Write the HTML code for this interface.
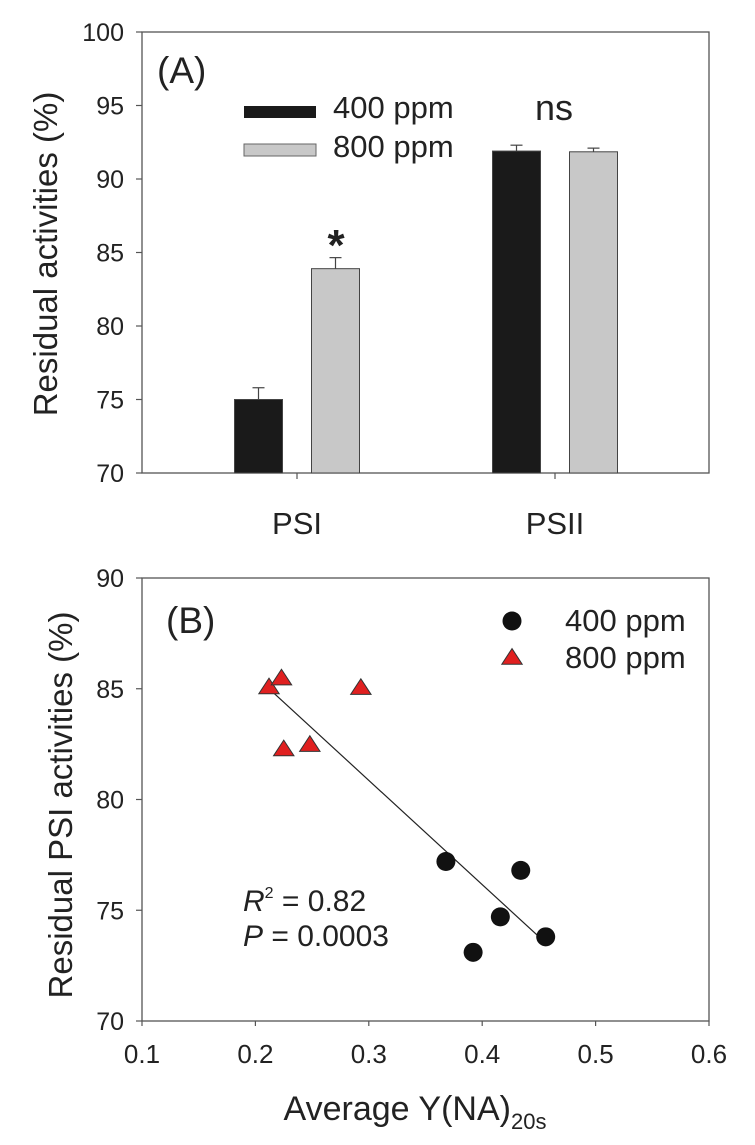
<!DOCTYPE html>
<html><head><meta charset="utf-8"><style>
html,body{margin:0;padding:0;background:#fff}
svg{display:block;font-family:"Liberation Sans",Arial,sans-serif}
</style></head><body>
<svg id="chart" width="755" height="1145" viewBox="0 0 755 1145" xmlns="http://www.w3.org/2000/svg">
<g id="panelA"></g>
<g id="panelB"></g>
</svg>
<script>
// Panel A data
const groups = ["PSI", "PSII"];
const series400 = [75.0, 91.9];
const err400 = [0.8, 0.4];
const series800 = [83.9, 91.85];
const err800 = [0.75, 0.25];
const yTicksA = [70, 75, 80, 85, 90, 95, 100];
// Panel B data
const x400 = [0.368, 0.434, 0.416, 0.392, 0.456];
const y400 = [77.2, 76.8, 74.7, 73.1, 73.8];
const x800 = [0.212, 0.223, 0.293, 0.225, 0.248];
const y800 = [85.1, 85.5, 85.07, 82.3, 82.5];
const xTicksB = [0.1, 0.2, 0.3, 0.4, 0.5, 0.6];
const yTicksB = [70, 75, 80, 85, 90];

const NS = "http://www.w3.org/2000/svg";
function mk(parent, tag, attrs, text) {
  const e = document.createElementNS(NS, tag);
  for (const k in attrs) e.setAttribute(k, attrs[k]);
  if (text !== undefined) e.textContent = text;
  parent.appendChild(e);
  return e;
}
const A = document.getElementById("panelA");
const B = document.getElementById("panelB");

// ---- Panel A ----
const aL = 142, aR = 709, aT = 32, aB = 473;
const yA = v => aB - (v - 70) / 30 * (aB - aT);
const groupCenters = [297, 555];
const barW = 48, barOff = 38.5;
let f = mk(A, "rect", {x: aL, y: aT, width: aR - aL, height: aB - aT, fill: "none", stroke: "#555", "stroke-width": 1.3});


yTicksA.forEach(t => {
  const y = yA(t);
  let l = mk(A, "line", {x1: aL - 6, x2: aL, y1: y, y2: y, stroke: "#555", "stroke-width": 1.2});
  
  
  let tx = mk(A, "text", {x: 124, y: y + 9, "font-size": 25, "text-anchor": "end", fill: "#222"}, t);
  
  
});
groups.forEach((g, i) => {
  const c = groupCenters[i];
  let l = mk(A, "line", {x1: c, x2: c, y1: aB, y2: aB + 6, stroke: "#555", "stroke-width": 1.2});
  
  
  let tx = mk(A, "text", {x: c, y: 534, "font-size": 31, "text-anchor": "middle", fill: "#222"}, g);
  
  
  [[series400, err400, "#1a1a1a", -1, "bar-400ppm"], [series800, err800, "#c8c8c8", 1, "bar-800ppm"]].forEach(([s, e, col, side, nm]) => {
    const cx = c + side * barOff;
    const top = yA(s[i]), et = yA(s[i] + e[i]);
    let el = mk(A, "line", {x1: cx, x2: cx, y1: et, y2: top, stroke: "#444", "stroke-width": 1.2});
    
    
    let ec = mk(A, "line", {x1: cx - 6, x2: cx + 6, y1: et, y2: et, stroke: "#444", "stroke-width": 1.2});
    
    
    let r = mk(A, "rect", {x: cx - barW / 2, y: top, width: barW, height: aB - top, fill: col, stroke: "#444", "stroke-width": 1});
    
    
  });
});
let t1 = mk(A, "text", {x: 157, y: 83, "font-size": 37, fill: "#222"}, "(A)");


let lg1 = mk(A, "rect", {x: 244, y: 106, width: 72, height: 12, fill: "#1a1a1a"});


let lt1 = mk(A, "text", {x: 333, y: 118, "font-size": 31, fill: "#222"}, "400 ppm");


let lg2 = mk(A, "rect", {x: 244, y: 144, width: 72, height: 12, fill: "#c8c8c8", stroke: "#666", "stroke-width": 1});


let lt2 = mk(A, "text", {x: 333, y: 157, "font-size": 31, fill: "#222"}, "800 ppm");


let ns = mk(A, "text", {x: 554, y: 120, "font-size": 36, "text-anchor": "middle", fill: "#222"}, "ns");


let st = mk(A, "text", {x: 336, y: 260, "font-size": 44, "font-weight": "bold", "text-anchor": "middle", fill: "#222"}, "*");


let yt = mk(A, "text", {x: 0, y: 0, "font-size": 33, "text-anchor": "middle", fill: "#222", transform: "translate(57,254) rotate(-90)"}, "Residual activities (%)");



// ---- Panel B ----
const bL = 142, bR = 709, bT = 578, bB = 1021;
const xB = v => bL + (v - 0.1) / 0.5 * (bR - bL);
const yB = v => bB - (v - 70) / 20 * (bB - bT);
let fb = mk(B, "rect", {x: bL, y: bT, width: bR - bL, height: bB - bT, fill: "none", stroke: "#555", "stroke-width": 1.3});


yTicksB.forEach(t => {
  const y = yB(t);
  let l = mk(B, "line", {x1: bL - 6, x2: bL, y1: y, y2: y, stroke: "#555", "stroke-width": 1.2});
  
  
  let tx = mk(B, "text", {x: 124, y: y + 9, "font-size": 25, "text-anchor": "end", fill: "#222"}, t);
  
  
});
xTicksB.forEach(t => {
  const x = xB(t);
  let l = mk(B, "line", {x1: x, x2: x, y1: bB, y2: bB + 5, stroke: "#555", "stroke-width": 1.2});
  
  
  let tx = mk(B, "text", {x: x, y: 1063, "font-size": 26, "text-anchor": "middle", fill: "#222"}, t.toFixed(1));
  
  
});
// regression line
const xs = x400.concat(x800), ys = y400.concat(y800);
const mx = xs.reduce((a, b) => a + b, 0) / xs.length, my = ys.reduce((a, b) => a + b, 0) / ys.length;
let sxy = 0, sxx = 0;
xs.forEach((x, i) => { sxy += (x - mx) * (ys[i] - my); sxx += (x - mx) * (x - mx); });
const slope = sxy / sxx, icpt = my - slope * mx;
const x0 = Math.min(...xs), x1 = Math.max(...xs);
let rl = mk(B, "line", {x1: xB(x0), y1: yB(icpt + slope * x0), x2: xB(x1), y2: yB(icpt + slope * x1), stroke: "#222", "stroke-width": 1.2});


const tri = (cx, cy, s) => `${cx},${cy - s * 0.7} ${cx - s * 0.85},${cy + s * 0.6} ${cx + s * 0.85},${cy + s * 0.6}`;
x800.forEach((x, i) => {
  let p = mk(B, "polygon", {points: tri(xB(x), yB(y800[i]), 12), fill: "#e02020", stroke: "#333", "stroke-width": 1});
  
  
});
x400.forEach((x, i) => {
  let c = mk(B, "circle", {cx: xB(x), cy: yB(y400[i]), r: 9.5, fill: "#111"});
  
  
});
let tb = mk(B, "text", {x: 166, y: 633, "font-size": 37, fill: "#222"}, "(B)");


let lc = mk(B, "circle", {cx: 512, cy: 621, r: 9.5, fill: "#111"});


let lbt1 = mk(B, "text", {x: 565, y: 631, "font-size": 31, fill: "#222"}, "400 ppm");


let lp = mk(B, "polygon", {points: tri(512, 657, 12), fill: "#e02020", stroke: "#333", "stroke-width": 1});


let lbt2 = mk(B, "text", {x: 565, y: 668, "font-size": 31, fill: "#222"}, "800 ppm");


let r2 = mk(B, "text", {x: 243, y: 911, "font-size": 30, fill: "#222"});


r2.innerHTML = '<tspan font-style="italic">R</tspan><tspan font-size="16" dy="-13">2</tspan><tspan dy="13"> = 0.82</tspan>';
let pv = mk(B, "text", {x: 243, y: 946, "font-size": 30, fill: "#222"});


pv.innerHTML = '<tspan font-style="italic">P</tspan> = 0.0003';
let ytb = mk(B, "text", {x: 0, y: 0, "font-size": 33, "text-anchor": "middle", fill: "#222", transform: "translate(72,805) rotate(-90)"}, "Residual PSI activities (%)");


let xtb = mk(B, "text", {x: 415, y: 1120, "font-size": 34, "text-anchor": "middle", fill: "#222"});


xtb.innerHTML = 'Average Y(NA)<tspan font-size="22" dy="9">20s</tspan>';
</script>
</body></html>
